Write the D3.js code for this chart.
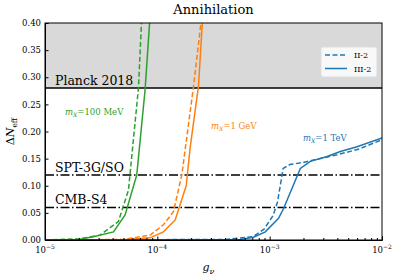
<!DOCTYPE html>
<html>
<head>
<meta charset="utf-8">
<script src="https://cdn.jsdelivr.net/npm/d3@7"></script>
<style>
  body { margin: 0; background: #fff; }
  text { font-family: "DejaVu Serif", serif; }
</style>
</head>
<body>
<div id="chart"></div>
<script>
// log10(g_nu) values and Delta N_eff
var greenIIg   = [-5, -4.7, -4.51, -4.347, -4.257, -4.168, -4.138];
var greenIIdn  = [0, 0.002, 0.009, 0.034, 0.092, 0.28, 0.415];
var greenIIIg  = [-5, -4.7, -4.57, -4.39, -4.287, -4.183, -4.109, -4.064];
var greenIIIdn = [0, 0.001, 0.006, 0.015, 0.046, 0.12, 0.277, 0.415];

var orangeIIg   = [-5, -4.3, -4.064, -3.946, -3.857, -3.782, -3.678, -3.603];
var orangeIIdn  = [0, 0.001, 0.009, 0.028, 0.052, 0.12, 0.283, 0.415];
var orangeIIIg  = [-5, -4.3, -4.064, -3.946, -3.841, -3.743, -3.708, -3.634, -3.595];
var orangeIIIdn = [0, 0.0005, 0.004, 0.015, 0.037, 0.1, 0.17, 0.283, 0.415];

var blueIIg   = [-5, -3.4, -3.15, -3.05, -2.97, -2.93, -2.88, -2.82, -2.7, -2.6, -2.4, -2.2, -2];
var blueIIdn  = [0, 0.001, 0.006, 0.02, 0.045, 0.07, 0.132, 0.139, 0.143, 0.148, 0.157, 0.168, 0.185];
var blueIIIg  = [-5, -3.4, -3.262, -3.143, -3.039, -2.921, -2.876, -2.727, -2.638, -2.489, -2.371, -2.222, -2];
var blueIIIdn = [0, 0.0005, 0.001, 0.005, 0.015, 0.04, 0.058, 0.132, 0.145, 0.154, 0.163, 0.172, 0.188];

var yTicks = [0, 0.05, 0.1, 0.15, 0.2, 0.25, 0.3, 0.35, 0.4];
var xTicks = [-5, -4, -3, -2];
var planck = 0.28, spt = 0.12, s4 = 0.06;

var margin = {top: 23, right: 17, bottom: 38, left: 45},
    width = 399 - margin.left - margin.right,
    height = 278 - margin.top - margin.bottom;

var svg = d3.select("#chart")
  .append("svg")
    .attr("width", 399)
    .attr("height", 278)
  .append("g")
    .attr("transform", "translate(" + margin.left + "," + margin.top + ")");

var x = d3.scaleLog().domain([1e-5, 1e-2]).range([0, width]);
var y = d3.scaleLinear().domain([0, 0.4]).range([height, 0]);

svg.append("clipPath").attr("id", "clip")
  .append("rect").attr("width", width).attr("height", height);

// Planck excluded band
svg.append("rect")
  .attr("x", 0).attr("y", y(0.4))
  .attr("width", width).attr("height", y(planck) - y(0.4))
  .attr("fill", "#d9d9d9");

svg.append("line")
  .attr("x1", 0).attr("x2", width)
  .attr("y1", y(planck)).attr("y2", y(planck))
  .attr("stroke", "#000").attr("stroke-width", 1.5);

[spt, s4].forEach(function(v) {
  svg.append("line")
    .attr("x1", 0).attr("x2", width)
    .attr("y1", y(v)).attr("y2", y(v))
    .attr("stroke", "#000").attr("stroke-width", 1.5)
    .attr("stroke-dasharray", "9,2.5,1.5,2.5");
});

var line = d3.line()
  .x(function(d) { return x(Math.pow(10, d[0])); })
  .y(function(d) { return y(d[1]); });

var series = [
  {g: greenIIIg, dn: greenIIIdn, c: "#2ca02c", dash: null},
  {g: greenIIg, dn: greenIIdn, c: "#2ca02c", dash: "5,2.5"},
  {g: orangeIIIg, dn: orangeIIIdn, c: "#ff7f0e", dash: null},
  {g: orangeIIg, dn: orangeIIdn, c: "#ff7f0e", dash: "5,2.5"},
  {g: blueIIIg, dn: blueIIIdn, c: "#1f77b4", dash: null},
  {g: blueIIg, dn: blueIIdn, c: "#1f77b4", dash: "5,2.5"}
];

series.forEach(function(s) {
  svg.append("path")
    .datum(d3.zip(s.g, s.dn))
    .attr("clip-path", "url(#clip)")
    .attr("fill", "none")
    .attr("stroke", s.c)
    .attr("stroke-width", 1.5)
    .attr("stroke-dasharray", s.dash)
    .attr("d", line);
});

// labels on the plot
svg.append("text").attr("x", 10).attr("y", y(planck) - 3)
  .style("font-size", "12.5px").text("Planck 2018");
svg.append("text").attr("x", 10).attr("y", y(spt) - 3)
  .style("font-size", "12.5px").text("SPT-3G/SO");
svg.append("text").attr("x", 10).attr("y", y(s4) - 3)
  .style("font-size", "12.5px").text("CMB-S4");

function massLabel(xp, yp, col, val) {
  var t = svg.append("text").attr("x", xp).attr("y", yp)
    .style("font-size", "8.5px").attr("fill", col);
  t.append("tspan").style("font-style", "italic").text("m");
  t.append("tspan").style("font-style", "italic").style("font-size", "6px")
    .attr("dy", 1.5).text("X");
  t.append("tspan").attr("dy", -1.5).text("=" + val);
}
massLabel(20, 92, "#2ca02c", "100 MeV");
massLabel(166, 106, "#ff7f0e", "1 GeV");
massLabel(258, 118, "#1f77b4", "1 TeV");

// axes
var yAxis = svg.append("g")
  .call(d3.axisLeft(y).tickValues(yTicks).tickFormat(d3.format(".2f")).tickSize(-3.5).tickPadding(4));
yAxis.selectAll("text").style("font-size", "8.5px").style("font-family", "DejaVu Serif, serif");

var minor = [];
for (var e = -5; e < -2; e++) {
  for (var m = 2; m < 10; m++) minor.push(m * Math.pow(10, e));
}
var xAxis = svg.append("g")
  .attr("transform", "translate(0," + height + ")")
  .call(d3.axisBottom(x).tickValues(xTicks.map(function(d) { return Math.pow(10, d); }))
    .tickFormat("").tickSize(-3.5));
svg.append("g")
  .attr("transform", "translate(0," + height + ")")
  .call(d3.axisBottom(x).tickValues(minor).tickFormat("").tickSize(-2))
  .select(".domain").remove();

xTicks.forEach(function(d) {
  var t = svg.append("text")
    .attr("x", x(Math.pow(10, d)))
    .attr("y", height + 13)
    .attr("text-anchor", "middle")
    .style("font-size", "8.5px");
  t.append("tspan").text("10");
  t.append("tspan").attr("dy", -4).style("font-size", "6px").text("\u2212" + (-d));
});

svg.append("rect")
  .attr("width", width).attr("height", height)
  .attr("fill", "none").attr("stroke", "#000").attr("stroke-width", 1);

// legend
var leg = svg.append("g").attr("transform", "translate(276,24)");
leg.append("rect").attr("width", 56).attr("height", 30).attr("rx", 2)
  .attr("fill", "#fff").attr("fill-opacity", 0.8).attr("stroke", "#ddd");
[["II-2", "5,2.5"], ["III-2", null]].forEach(function(it, i) {
  leg.append("line").attr("x1", 4).attr("x2", 26)
    .attr("y1", 8 + i * 13.5).attr("y2", 8 + i * 13.5)
    .attr("stroke", "#1f77b4").attr("stroke-width", 1.5)
    .attr("stroke-dasharray", it[1]);
  leg.append("text").attr("x", 33).attr("y", 11 + i * 13.5)
    .style("font-size", "8px").text(it[0]);
});

// title and axis labels
svg.append("text").attr("x", width / 2).attr("y", -9)
  .attr("text-anchor", "middle").style("font-size", "13px").text("Annihilation");

var xl = svg.append("text").attr("x", width / 2 - 5).attr("y", height + 31)
  .attr("text-anchor", "middle").style("font-size", "11px");
xl.append("tspan").style("font-style", "italic").text("g");
xl.append("tspan").style("font-style", "italic").style("font-size", "8px").attr("dy", 3).text("\u03bd");

var yl = svg.append("text")
  .attr("transform", "translate(-31," + (height / 2) + ") rotate(-90)")
  .attr("text-anchor", "middle").style("font-size", "11px");
yl.append("tspan").text("\u0394");
yl.append("tspan").style("font-style", "italic").text("N");
yl.append("tspan").style("font-size", "7.5px").attr("dy", 3).text("eff");
</script>
</body>
</html>
